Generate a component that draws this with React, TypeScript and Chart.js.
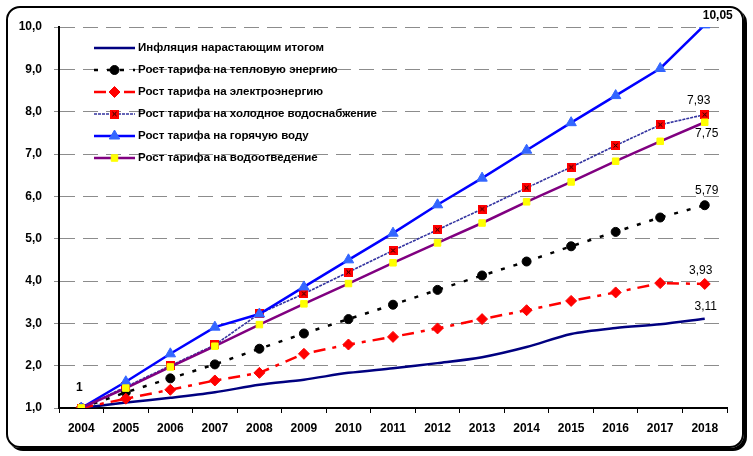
import { useEffect, useRef } from "react"
import { Chart, registerables } from "chart.js"
import { drawPoint } from "chart.js/helpers"

Chart.register(...registerables)

const FONT = "Arial, 'Liberation Sans', sans-serif"

const years = ["2004", "2005", "2006", "2007", "2008", "2009", "2010", "2011", "2012", "2013", "2014", "2015", "2016", "2017", "2018"]

const seriesNames = [
    "Инфляция нарастающим итогом",
    "Рост тарифа на тепловую энергию",
    "Рост тарифа на электроэнергию",
    "Рост тарифа на холодное водоснабжение",
    "Рост тарифа на горячую воду",
    "Рост тарифа на водоотведение",
]

const inflation = [1, 1.13, 1.24, 1.37, 1.55, 1.67, 1.83, 1.94, 2.06, 2.2, 2.44, 2.75, 2.89, 2.98, 3.11]
const heat = [1, 1.37, 1.7, 2.03, 2.4, 2.76, 3.1, 3.44, 3.79, 4.13, 4.46, 4.82, 5.16, 5.5, 5.79]
const electricity = [1, 1.22, 1.43, 1.65, 1.83, 2.28, 2.5, 2.68, 2.88, 3.1, 3.31, 3.53, 3.73, 3.95, 3.93]
const coldWater = [1, 1.5, 2.0, 2.49, 3.23, 3.7, 4.21, 4.72, 5.21, 5.7, 6.2, 6.69, 7.2, 7.69, 7.93]
const hotWater = [1, 1.62, 2.28, 2.91, 3.22, 3.86, 4.5, 5.13, 5.8, 6.43, 7.09, 7.74, 8.38, 9.02, 10.05]
const drainage = [1, 1.47, 1.97, 2.46, 2.97, 3.46, 3.94, 4.43, 4.9, 5.37, 5.87, 6.34, 6.83, 7.3, 7.75]

// value labels: [dataset, point, dx, dy, bold]
const valueLabels: [number, number, number, number, boolean][] = [
    [0, 0, -2, -20, true],
    [4, 14, 13, -9, true],
    [3, 14, -6, -14, false],
    [5, 14, 2, 11, false],
    [1, 14, 2, -15, false],
    [2, 14, -4, -13, false],
    [0, 14, 1, -12, false],
]

const crossSquare = () => {
    const c = document.createElement("canvas")
    c.width = 9
    c.height = 9
    const g = c.getContext("2d")!
    g.fillStyle = "#ff0000"
    g.fillRect(0, 0, 9, 9)
    g.strokeStyle = "#000"
    g.lineWidth = 1
    g.beginPath()
    g.moveTo(2.5, 2.5); g.lineTo(6.5, 6.5)
    g.moveTo(6.5, 2.5); g.lineTo(2.5, 6.5)
    g.stroke()
    return c
}

const insideLegend = {
    id: "insideLegend",
    afterDatasetsDraw(chart: any) {
        const { ctx, chartArea } = chart
        const x0 = chartArea.left + 35
        const x1 = chartArea.left + 76
        chart.data.datasets.forEach((ds: any, i: number) => {
            const y = chartArea.top + 21 + i * 22
            ctx.save()
            ctx.strokeStyle = ds.borderColor
            ctx.lineWidth = ds.borderWidth
            ctx.setLineDash(ds.borderDash || [])
            ctx.beginPath()
            ctx.moveTo(x0, y)
            ctx.lineTo(x1, y)
            ctx.stroke()
            ctx.setLineDash([])
            if (ds.pointRadius > 0) {
                ctx.fillStyle = ds.pointBackgroundColor
                ctx.strokeStyle = ds.pointBorderColor
                ctx.lineWidth = ds.pointBorderWidth
                drawPoint(ctx, { pointStyle: ds.pointStyle, radius: ds.pointRadius, borderWidth: ds.pointBorderWidth, rotation: 0 } as any, (x0 + x1) / 2, y)
            }
            ctx.fillStyle = "#000"
            ctx.font = `bold 11.5px ${FONT}`
            ctx.textBaseline = "middle"
            ctx.textAlign = "left"
            ctx.fillText(seriesNames[i], x1 + 3, y)
            ctx.restore()
        })
    },
}

const pointLabels = {
    id: "pointLabels",
    afterDatasetsDraw(chart: any) {
        const { ctx } = chart
        ctx.save()
        ctx.fillStyle = "#000"
        ctx.textAlign = "center"
        ctx.textBaseline = "middle"
        valueLabels.forEach(([d, p, dx, dy, bold]) => {
            const el = chart.getDatasetMeta(d).data[p]
            const v = chart.data.datasets[d].data[p]
            ctx.font = `${bold ? "bold " : ""}12px ${FONT}`
            ctx.fillText(String(v).replace(".", ","), el.x + dx, el.y + dy)
        })
        ctx.restore()
    },
}

const App = () => {
    const graphicRef = useRef<HTMLCanvasElement>(null)

    useEffect(() => {
        if (!graphicRef.current) return
        const myChart = new Chart(graphicRef.current, {
            type: "line",
            data: {
                labels: years,
                datasets: [
                    {
                        label: seriesNames[0], data: inflation, borderColor: "#000080", borderWidth: 2.5,
                        pointRadius: 0, tension: 0.3, order: 6,
                    },
                    {
                        label: seriesNames[1], data: heat, borderColor: "#000", borderWidth: 2.5, borderDash: [4, 9],
                        pointStyle: "circle", pointRadius: 4.5, pointBackgroundColor: "#000", pointBorderColor: "#000", pointBorderWidth: 1, order: 5,
                    },
                    {
                        label: seriesNames[2], data: electricity, borderColor: "#ff0000", borderWidth: 2.5, borderDash: [12, 7, 4, 7],
                        pointStyle: "rectRot", pointRadius: 5.5, pointBackgroundColor: "#ff0000", pointBorderColor: "#ff0000", pointBorderWidth: 1, order: 4,
                    },
                    {
                        label: seriesNames[3], data: coldWater, borderColor: "#3333a0", borderWidth: 1.6, borderDash: [3, 1],
                        pointStyle: crossSquare(), pointRadius: 5, pointBackgroundColor: "#ff0000", pointBorderColor: "#ff0000", pointBorderWidth: 0, order: 3,
                    },
                    {
                        label: seriesNames[4], data: hotWater, borderColor: "#0000ff", borderWidth: 2.5,
                        pointStyle: "triangle", pointRadius: 6, pointBackgroundColor: "#3366ff", pointBorderColor: "#3366ff", pointBorderWidth: 1, order: 2,
                    },
                    {
                        label: seriesNames[5], data: drainage, borderColor: "#800080", borderWidth: 2.5,
                        pointStyle: "rect", pointRadius: 4.6, pointBackgroundColor: "#ffff00", pointBorderColor: "#ffff00", pointBorderWidth: 1, order: 1,
                    },
                ],
            },
            options: {
                responsive: false,
                animation: false,
                devicePixelRatio: 1,
                layout: { padding: { left: 0, top: 27, right: 26, bottom: 0 } },
                plugins: { legend: { display: false }, tooltip: { enabled: false } },
                scales: {
                    x: {
                        offset: true,
                        grid: { offset: true, drawOnChartArea: false, drawTicks: true, tickLength: 5, color: "#000", tickColor: "#000" },
                        border: { color: "#000", width: 2 },
                        ticks: { color: "#000", font: { family: FONT, size: 12, weight: "bold" }, padding: 8, maxRotation: 0, autoSkip: false },
                        afterFit: (s: any) => { s.height = 48 },
                    },
                    y: {
                        min: 1,
                        max: 10,
                        ticks: {
                            stepSize: 1,
                            color: "#000",
                            padding: 12,
                            font: { family: FONT, size: 12, weight: "bold" },
                            callback: (v: any) => Number(v).toFixed(1).replace(".", ","),
                        },
                        grid: { color: "#8c8c8c", lineWidth: 1, tickLength: 5, tickColor: "#8c8c8c" },
                        border: { color: "#000", width: 2, dash: [15, 8] },
                        afterFit: (s: any) => { s.width = 59 },
                    },
                },
            },
            plugins: [insideLegend, pointLabels],
        } as any)
        return () => {
            myChart.destroy()
        }
    }, [])

    return (
        <div style={{ position: "absolute", left: 0, top: 0, width: 753, height: 456, background: "#fff" }}>
            <div style={{ position: "absolute", left: 6, top: 6, width: 738, height: 442, boxSizing: "border-box", border: "2px solid #000", borderRadius: 14, boxShadow: "3px 3px 0 #000" }} />
            <canvas ref={graphicRef} width={753} height={456} style={{ position: "absolute", left: 0, top: 0 }} />
        </div>
    )
}

export default App
